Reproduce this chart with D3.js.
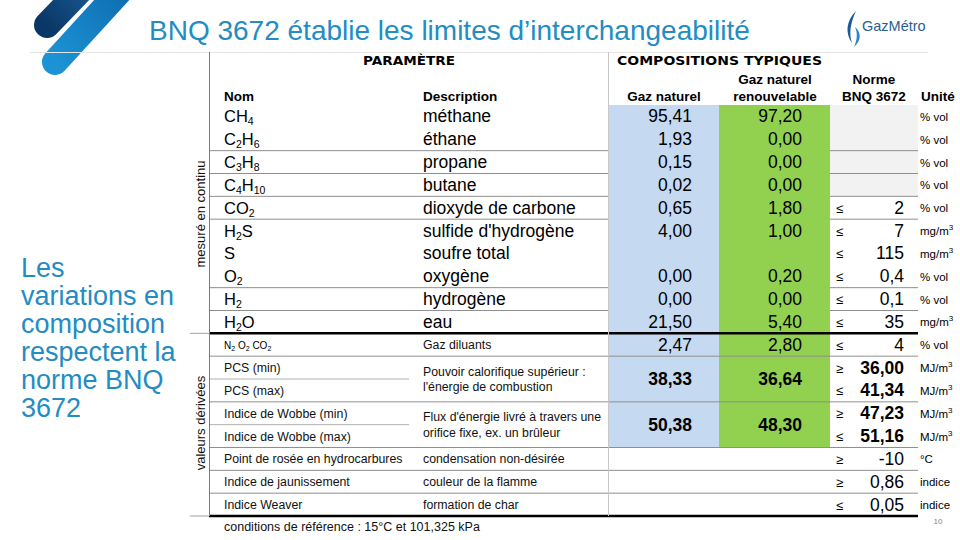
<!DOCTYPE html>
<html><head><meta charset="utf-8">
<script src="https://cdn.jsdelivr.net/npm/d3@7"></script>
<style>html,body{margin:0;padding:0;background:#fff;}svg{display:block;}</style>
</head><body>
<svg id="chart" width="960" height="540"></svg>
<script>
// ---------- DATA ----------
const titleText = "BNQ 3672 établie les limites d’interchangeabilité";
const sideText = ["Les", "variations en", "composition", "respectent la", "norme BNQ", "3672"];
const groupLabels = ["mesuré en continu", "valeurs dérivées"];
const groupLabelCenters = [214, 423];
const rowNames = ["CH4","C2H6","C3H8","C4H10","CO2","H2S","S","O2","H2","H2O","N2 O2 CO2",
  "PCS (min)","PCS (max)","Indice de Wobbe (min)","Indice de Wobbe (max)",
  "Point de rosée en hydrocarbures","Indice de jaunissement","Indice Weaver"];
const descriptions = ["méthane","éthane","propane","butane","dioxyde de carbone","sulfide d'hydrogène",
  "soufre total","oxygène","hydrogène","eau","Gaz diluants",
  ["Pouvoir calorifique supérieur :","l'énergie de combustion"], null,
  ["Flux d'énergie livré à travers une","orifice fixe, ex. un brûleur"], null,
  "condensation non-désirée","couleur de la flamme","formation de char"];
const gazNaturel      = [95.41,1.93,0.15,0.02,0.65,4.00,null,0.00,0.00,21.50,2.47,38.33,null,50.38,null,null,null,null];
const gazRenouvelable = [97.20,0.00,0.00,0.00,1.80,1.00,null,0.20,0.00,5.40,2.80,36.64,null,48.30,null,null,null,null];
const cellSpan        = [1,1,1,1,1,1,1,1,1,1,1,2,0,2,0,1,1,1];
const normeOperator = [null,null,null,null,"≤","≤","≤","≤","≤","≤","≤","≥","≤","≥","≤","≥","≥","≤"];
const normeLimit    = [null,null,null,null,2,7,115,0.4,0.1,35,4,36.00,41.34,47.23,51.16,-10,0.86,0.05];
const normeDecimals = [0,0,0,0,0,0,0,1,1,0,0,2,2,2,2,0,2,2];
const units = ["% vol","% vol","% vol","% vol","% vol","mg/m3","mg/m3","% vol","% vol","mg/m3","% vol",
  "MJ/m3","MJ/m3","MJ/m3","MJ/m3","°C","indice","indice"];
const fullLines = [2,3,4,5,8,9,11,13,15,16,17];
const partialLines = [12,14];
const thickLines = [10,18];
const footnote = "conditions de référence : 15°C et 101,325 kPa";
const pageNumber = "10";

// ---------- SETUP ----------
const FONT = "'Liberation Sans', Arial, sans-serif";
const svg = d3.select("#chart");
const blueTitle = "#238cc3";
const fr = d3.formatLocale({decimal: ",", thousands: " ", grouping: [3], currency: ["", " €"], minus: "-"});
const fmt = (v, d) => fr.format("." + d + "f")(v);

const y = d3.scaleBand().domain(d3.range(rowNames.length)).range([105, 516]);
const yc = i => y(i) + y.bandwidth() / 2;
const yEdge = k => 105 + k * y.bandwidth();

const X = {left: 209, nom: 224, desc: 423, blue0: 608, blue1: 719, green1: 830, norme1: 918,
  blueR: 692, greenR: 802, op: 836, normeR: 904, unit: 920, gutter: 190};

// ---------- LOGO (top-left) ----------
const defs = svg.append("defs");
const g1 = defs.append("linearGradient").attr("id","gDark").attr("x1","0").attr("y1","1").attr("x2","1").attr("y2","0");
g1.append("stop").attr("offset","0").attr("stop-color","#0a3866");
g1.append("stop").attr("offset","1").attr("stop-color","#1f64a3");
const g2 = defs.append("linearGradient").attr("id","gLight").attr("x1","0").attr("y1","1").attr("x2","1").attr("y2","0");
g2.append("stop").attr("offset","0").attr("stop-color","#1b93d4");
g2.append("stop").attr("offset","1").attr("stop-color","#0e69ad");
svg.append("line").attr("x1",47).attr("y1",25).attr("x2",100).attr("y2",-30)
  .attr("stroke","url(#gDark)").attr("stroke-width",26).attr("stroke-linecap","round");
svg.append("line").attr("x1",55).attr("y1",62).attr("x2",130).attr("y2",-20)
  .attr("stroke","url(#gLight)").attr("stroke-width",26).attr("stroke-linecap","round");

// top separator
svg.append("line").attr("x1",30).attr("x2",928).attr("y1",52.5).attr("y2",52.5)
  .attr("stroke","#e4e4e4").attr("stroke-width",1);

// title
svg.append("text").attr("x",149).attr("y",40).attr("font-family",FONT).attr("font-size",28)
  .attr("fill",blueTitle).text(titleText);

// GazMétro logo
const gm = svg.append("g");
gm.append("path").attr("d","M856,11 C846,21 845,33 852,43 C849,34 850,24 856,11 Z").attr("fill","#1c5a96");
gm.append("path").attr("d","M855,27 C861,32 862,40 854,47 C857,40 858,34 855,27 Z").attr("fill","#2a86c6");
gm.append("text").attr("x",862).attr("y",31).attr("font-family",FONT).attr("font-size",14.5)
  .attr("fill","#2b5f93").text("GazMétro");

// side text
svg.append("g").selectAll("text").data(sideText).join("text")
  .attr("x",21).attr("y",(d,i)=>277 + i*28).attr("font-family",FONT).attr("font-size",27)
  .attr("fill",blueTitle).text(d=>d);

// ---------- TABLE ----------
const tbl = svg.append("g");
const lineCol = "#8f8f8f";

tbl.append("rect").attr("x",X.green1).attr("y",yEdge(0)).attr("width",X.norme1-X.green1)
  .attr("height",yEdge(4)-yEdge(0)).attr("fill","#f2f2f2");
tbl.append("g").selectAll("line").data(fullLines.filter(k=>k<10)).join("line")
  .attr("x1",X.left).attr("x2",X.norme1).attr("y1",k=>yEdge(k)).attr("y2",k=>yEdge(k))
  .attr("stroke",lineCol).attr("stroke-width",1);
tbl.append("rect").attr("x",X.blue0).attr("y",yEdge(0)).attr("width",X.blue1-X.blue0)
  .attr("height",yEdge(15)-yEdge(0)).attr("fill","#c5d9f1");
tbl.append("rect").attr("x",X.blue1).attr("y",yEdge(0)).attr("width",X.green1-X.blue1)
  .attr("height",yEdge(15)-yEdge(0)).attr("fill","#92d050");
tbl.append("g").selectAll("line").data(fullLines.filter(k=>k>10)).join("line")
  .attr("x1",X.left).attr("x2",X.norme1).attr("y1",k=>yEdge(k)).attr("y2",k=>yEdge(k))
  .attr("stroke",lineCol).attr("stroke-width",1);
tbl.append("g").selectAll("line").data(partialLines).join("line")
  .attr("x1",X.left).attr("x2",409).attr("y1",k=>yEdge(k)).attr("y2",k=>yEdge(k))
  .attr("stroke","#b0b0b0").attr("stroke-width",1);
tbl.append("g").selectAll("line").data(thickLines).join("line")
  .attr("x1",X.left).attr("x2",X.norme1).attr("y1",k=>yEdge(k)).attr("y2",k=>yEdge(k))
  .attr("stroke","#000").attr("stroke-width",2.5);
tbl.append("g").selectAll("line").data(thickLines).join("line")
  .attr("x1",X.gutter).attr("x2",X.left).attr("y1",k=>yEdge(k)).attr("y2",k=>yEdge(k))
  .attr("stroke","#a0a0a0").attr("stroke-width",1);

tbl.append("line").attr("x1",X.left+0.5).attr("x2",X.left+0.5).attr("y1",52).attr("y2",yEdge(18))
  .attr("stroke","#7a7a7a").attr("stroke-width",1);
tbl.append("line").attr("x1",X.blue0+0.5).attr("x2",X.blue0+0.5).attr("y1",52).attr("y2",yEdge(18))
  .attr("stroke","#c8c8c8").attr("stroke-width",1);

// headers
const hdr = tbl.append("g").attr("font-family",FONT).attr("fill","#000");
hdr.append("text").attr("x",409).attr("y",65).attr("text-anchor","middle")
  .attr("font-family","'DejaVu Sans', sans-serif").attr("font-weight","bold").attr("font-size",12)
  .attr("textLength",92).attr("lengthAdjust","spacingAndGlyphs").text("PARAMÈTRE");
hdr.append("text").attr("x",617).attr("y",65)
  .attr("font-family","'DejaVu Sans', sans-serif").attr("font-weight","bold").attr("font-size",12)
  .attr("textLength",205).attr("lengthAdjust","spacingAndGlyphs").text("COMPOSITIONS TYPIQUES");
const colHeads = [
  {x:X.nom, y:101, t:"Nom", a:"start"},
  {x:X.desc, y:101, t:"Description", a:"start"},
  {x:664, y:101, t:"Gaz naturel", a:"middle"},
  {x:775, y:84, t:"Gaz naturel", a:"middle"},
  {x:775, y:101, t:"renouvelable", a:"middle"},
  {x:874, y:84, t:"Norme", a:"middle"},
  {x:874, y:101, t:"BNQ 3672", a:"middle"},
  {x:921, y:101, t:"Unité", a:"start"}
];
hdr.selectAll("text.ch").data(colHeads).join("text").attr("class","ch")
  .attr("x",d=>d.x).attr("y",d=>d.y).attr("text-anchor",d=>d.a)
  .attr("font-weight","bold").attr("font-size",13.5).text(d=>d.t);

// group labels (vertical)
tbl.append("g").selectAll("text").data(groupLabels).join("text")
  .attr("transform",(d,i)=>`translate(205,${groupLabelCenters[i]}) rotate(-90)`)
  .attr("text-anchor","middle").attr("font-family",FONT).attr("font-size",13).attr("fill","#111")
  .text(d=>d);

// names
function formula(sel, str, size, subSize, shift) {
  const parts = str.match(/\d+|\D+/g);
  let cur = 0;
  parts.forEach(p => {
    const isD = /^\d+$/.test(p);
    const target = isD ? shift : 0;
    sel.append("tspan").attr("dy", target - cur).attr("font-size", isD ? subSize : size).text(p);
    cur = target;
  });
}
const nameG = tbl.append("g").attr("font-family",FONT).attr("fill","#000");
rowNames.forEach((n,i) => {
  const t = nameG.append("text").attr("x",X.nom).attr("y",yc(i)+6);
  if (i < 10) formula(t, n, 16.5, 10.5, 3);
  else if (i === 10) { t.attr("y",yc(i)+4); formula(t, n, 10, 7, 2); }
  else t.attr("font-size",12.3).attr("y",yc(i)+4.5).attr("fill","#111").text(n);
});

// descriptions
const descG = tbl.append("g").attr("font-family",FONT).attr("fill","#000");
descriptions.forEach((d,i) => {
  if (d === null) return;
  if (Array.isArray(d)) {
    const c = yEdge(i+1);
    d.forEach((line,j) => descG.append("text").attr("x",X.desc).attr("y",c - 7.75 + j*15.5 + 4.5)
      .attr("font-size",12.3).attr("fill","#111").text(line));
  } else if (i < 10) {
    descG.append("text").attr("x",X.desc).attr("y",yc(i)+6).attr("font-size",17.5).text(d);
  } else {
    descG.append("text").attr("x",X.desc).attr("y",yc(i)+4.5).attr("font-size",12.3).attr("fill","#111").text(d);
  }
});

// composition values
const valG = tbl.append("g").attr("font-family",FONT).attr("fill","#000").attr("text-anchor","end");
[[gazNaturel, X.blueR],[gazRenouvelable, X.greenR]].forEach(([arr, xr]) => {
  arr.forEach((v,i) => {
    if (v === null || cellSpan[i] === 0) return;
    const merged = cellSpan[i] === 2;
    const cy = merged ? yEdge(i+1) : yc(i);
    valG.append("text").attr("x",xr).attr("y",cy+6).attr("font-size",17.5)
      .attr("font-weight",merged?"bold":"normal").text(fmt(v,2));
  });
});

// norme
const nG = tbl.append("g").attr("font-family",FONT).attr("fill","#000");
normeLimit.forEach((v,i) => {
  if (v === null) return;
  const bold = i >= 11 && i <= 14;
  nG.append("text").attr("x",X.op).attr("y",yc(i)+5).attr("font-size",13).text(normeOperator[i]);
  nG.append("text").attr("x",X.normeR).attr("y",yc(i)+6).attr("text-anchor","end")
    .attr("font-size",17.5).attr("font-weight",bold?"bold":"normal").text(fmt(v, normeDecimals[i]));
});

// units
const uG = tbl.append("g").attr("font-family",FONT).attr("fill","#000");
units.forEach((u,i) => {
  const t = uG.append("text").attr("x",X.unit).attr("y",yc(i)+4.5).attr("font-size",11.5);
  const m = u.match(/^(.*m)3$/);
  if (m) {
    t.append("tspan").text(m[1]);
    t.append("tspan").attr("dy",-5).attr("font-size",8).text("3");
  } else t.text(u);
});

// footnote + page number
svg.append("text").attr("x",X.nom).attr("y",531).attr("font-family",FONT).attr("font-size",12.5)
  .attr("fill","#111").text(footnote);
svg.append("text").attr("x",938).attr("y",524).attr("text-anchor","middle").attr("font-family",FONT)
  .attr("font-size",8).attr("fill","#888").text(pageNumber);
</script>
</body></html>
